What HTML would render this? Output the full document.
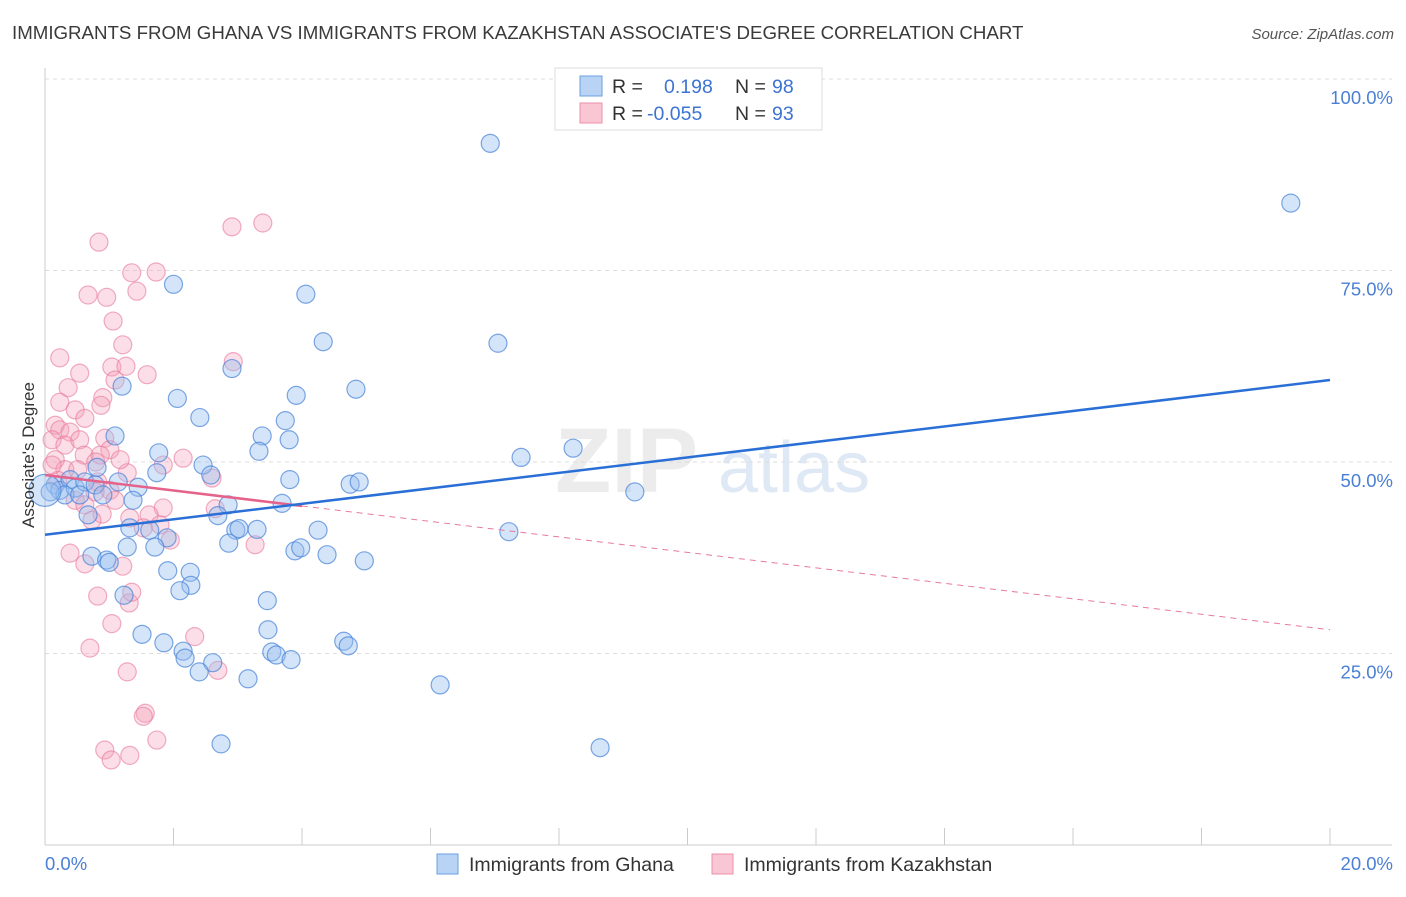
<!DOCTYPE html>
<html><head><meta charset="utf-8"><style>
body{margin:0;background:#fff;font-family:"Liberation Sans",sans-serif;}
svg text{font-family:"Liberation Sans",sans-serif;}
</style></head><body>
<svg id="chart" width="1406" height="892" xmlns="http://www.w3.org/2000/svg">
<text x="12" y="39" font-size="18.7" fill="#3a3a3a">IMMIGRANTS FROM GHANA VS IMMIGRANTS FROM KAZAKHSTAN ASSOCIATE'S DEGREE CORRELATION CHART</text>
<text x="1394" y="39" font-size="15" fill="#555" text-anchor="end" font-style="italic">Source: ZipAtlas.com</text>
<g>
<text x="555" y="492" font-size="92" fill="#ececec" font-family="Liberation Serif" font-weight="bold">ZIP</text>
<text x="718" y="492" font-size="72" fill="#dfe8f5">atlas</text>
</g>
<g id="grid"></g>
<g id="axes"></g>
<g id="pts"></g>
<g id="trends"></g>
<text transform="translate(34,455) rotate(-90)" font-size="17" fill="#333" text-anchor="middle">Associate's Degree</text>
<g>
<rect x="555" y="68" width="267" height="62" fill="#fff" stroke="#ddd"/>
<rect x="580" y="76" width="22" height="20" fill="#b8d3f3" stroke="#6a9fe0"/>
<rect x="580" y="103" width="22" height="20" fill="#f9c6d4" stroke="#ee90ab"/>
<text x="612" y="93" font-size="19.5" fill="#333">R = </text><text x="664" y="93" font-size="19.5" fill="#3d74d2">0.198</text>
<text x="735" y="93" font-size="19.5" fill="#333">N = </text><text x="772" y="93" font-size="19.5" fill="#3d74d2">98</text>
<text x="612" y="120" font-size="19.5" fill="#333">R = </text><text x="647" y="120" font-size="19.5" fill="#3d74d2">-0.055</text>
<text x="735" y="120" font-size="19.5" fill="#333">N = </text><text x="772" y="120" font-size="19.5" fill="#3d74d2">93</text>
</g>
<g>
<rect x="437" y="854" width="21" height="20" fill="#b8d3f3" stroke="#6a9fe0"/>
<text x="469" y="871" font-size="19.5" fill="#333">Immigrants from Ghana</text>
<rect x="712" y="854" width="21" height="20" fill="#f9c6d4" stroke="#ee90ab"/>
<text x="744" y="871" font-size="19.5" fill="#333">Immigrants from Kazakhstan</text>
</g>
</svg>
<script>
const yTicks=[25,50,75,100];
const yTickLabels=["25.0%","50.0%","75.0%","100.0%"];
const xTickCount=10;
const xLabels=["0.0%","20.0%"];
const ghanaX=[6.93,19.39,2.0,4.06,4.33,7.05,2.91,1.2,4.84,3.91,2.06,2.41,3.74,1.09,3.38,3.8,1.77,3.33,8.22,7.41,2.46,0.81,1.74,2.58,3.81,4.75,4.89,9.18,0.16,0.23,0.39,0.47,0.62,0.78,0.31,0.08,0.54,0.9,1.45,1.37,1.14,3.69,2.85,2.69,0.67,4.25,2.97,3.02,3.3,1.32,1.63,1.9,1.28,1.71,2.86,3.89,3.98,4.39,4.97,7.22,0.73,0.96,1.0,1.91,2.26,2.27,2.1,1.23,3.46,1.51,3.47,1.85,4.65,4.72,2.15,2.18,2.61,2.4,3.53,3.6,3.83,3.16,6.15,2.74,8.64,0];
const ghanaY=[91.6,83.8,73.2,71.9,65.7,65.5,62.2,59.9,59.5,58.7,58.3,55.8,55.4,53.4,53.4,52.9,51.2,51.4,51.8,50.6,49.6,49.3,48.6,48.3,47.7,47.1,47.4,46.1,47.0,46.3,47.7,46.6,47.4,47.0,45.7,46.1,45.7,45.7,46.7,45.0,47.4,44.6,44.4,43.0,43.1,41.1,41.1,41.3,41.2,41.4,41.1,40.1,38.9,38.9,39.4,38.4,38.8,37.9,37.1,40.9,37.7,37.2,36.9,35.8,35.6,33.9,33.2,32.6,31.9,27.5,28.1,26.4,26.6,26.0,25.3,24.4,23.8,22.6,25.2,24.8,24.2,21.7,20.9,13.2,12.7,46.3];
const kazX=[0.84,2.91,3.39,1.35,1.73,0.67,0.96,1.43,1.06,1.21,0.23,2.93,1.04,1.26,0.54,1.59,1.09,0.36,0.9,0.23,0.87,0.47,0.62,0.16,0.23,0.39,0.11,0.31,0.54,0.93,1.01,0.61,0.16,0.31,0.86,2.15,1.84,1.28,2.6,0.82,1.01,0.47,0.62,0.78,1.09,0.89,0.73,1.84,1.62,1.32,2.65,1.79,1.95,1.53,3.27,0.39,0.62,1.21,0.82,1.31,1.35,1.04,2.33,0.7,1.28,2.69,1.56,1.53,1.74,0.93,1.32,1.03,0.79,0.51,1.17,0.2,0.11];
const kazY=[78.7,80.7,81.2,74.7,74.8,71.8,71.5,72.3,68.4,65.3,63.6,63.1,62.4,62.5,61.6,61.4,60.7,59.7,58.4,57.8,57.4,56.8,55.7,54.8,54.2,53.9,52.9,52.2,52.9,53.1,51.6,50.9,50.3,49.0,50.9,50.5,49.6,48.6,47.9,47.4,46.3,45.0,44.4,46.1,45.0,43.2,42.4,44.0,43.1,42.7,43.9,41.8,39.8,41.4,39.2,38.1,36.7,36.4,32.5,31.6,33.0,28.9,27.2,25.7,22.6,22.8,17.2,16.8,13.7,12.4,11.7,11.1,50.0,49.0,50.3,47.6,49.6];
const ghanaTrend=[40.5,60.7];
const kazTrend=[48.3,28.1];
const kazSolidEnd=4;

const X0=45,X1=1330,Y0=845,Y100=79;
const sx=v=>X0+(v/20)*(X1-X0);
const sy=v=>Y0-(v/100)*(Y0-Y100);
const NS="http://www.w3.org/2000/svg";
function mk(tag,attrs,parent){const e=document.createElementNS(NS,tag);for(const k in attrs)e.setAttribute(k,attrs[k]);parent.appendChild(e);return e;}
const grid=document.getElementById('grid'),axes=document.getElementById('axes'),pts=document.getElementById('pts'),tr=document.getElementById('trends');
yTicks.forEach((t,i)=>{
  const l=mk('line',{x1:X0,x2:1392,y1:sy(t),y2:sy(t),stroke:'#ddd','stroke-dasharray':'4,4'},grid);
  
  
  const tx=mk('text',{x:1393,y:sy(t)+25,'font-size':18.5,fill:'#4a7fd4','text-anchor':'end'},grid);
  tx.textContent=yTickLabels[i];
  
  
});
const ya=mk('line',{x1:X0,x2:X0,y1:68,y2:Y0,stroke:'#ccc'},axes);


const xa=mk('line',{x1:X0,x2:1392,y1:Y0,y2:Y0,stroke:'#ccc'},axes);


for(let i=1;i<=xTickCount;i++){
  const t=mk('line',{x1:sx(i*2),x2:sx(i*2),y1:828,y2:Y0,stroke:'#ccc'},axes);
  
  
}
const xl0=mk('text',{x:45,y:870,'font-size':18.5,fill:'#4a7fd4'},axes);xl0.textContent=xLabels[0];


const xl1=mk('text',{x:1393,y:870,'font-size':18.5,fill:'#4a7fd4','text-anchor':'end'},axes);xl1.textContent=xLabels[1];


kazX.forEach((v,i)=>{
  const c=mk('circle',{cx:sx(v),cy:sy(kazY[i]),r:9,fill:'rgba(244,160,185,0.35)',stroke:'rgba(232,120,155,0.6)','stroke-width':1.2},pts);
  
  
});
ghanaX.forEach((v,i)=>{
  const c=mk('circle',{cx:sx(v),cy:sy(ghanaY[i]),r:i===ghanaX.length-1?16:9,fill:'rgba(150,190,240,0.4)',stroke:'rgba(70,130,215,0.7)','stroke-width':1.2},pts);
  
  
});
const kAt=x=>kazTrend[0]+(kazTrend[1]-kazTrend[0])*x/20;
const kd=mk('line',{x1:sx(kazSolidEnd),y1:sy(kAt(kazSolidEnd)),x2:sx(20),y2:sy(kazTrend[1]),stroke:'#e87a9b','stroke-width':1,'stroke-dasharray':'6,5'},tr);


const ks=mk('line',{x1:sx(0),y1:sy(kazTrend[0]),x2:sx(kazSolidEnd),y2:sy(kAt(kazSolidEnd)),stroke:'#e5638b','stroke-width':2.5},tr);


const gl=mk('line',{x1:sx(0),y1:sy(ghanaTrend[0]),x2:sx(20),y2:sy(ghanaTrend[1]),stroke:'#2a6fd6','stroke-width':2.5},tr);


</script>
</body></html>
